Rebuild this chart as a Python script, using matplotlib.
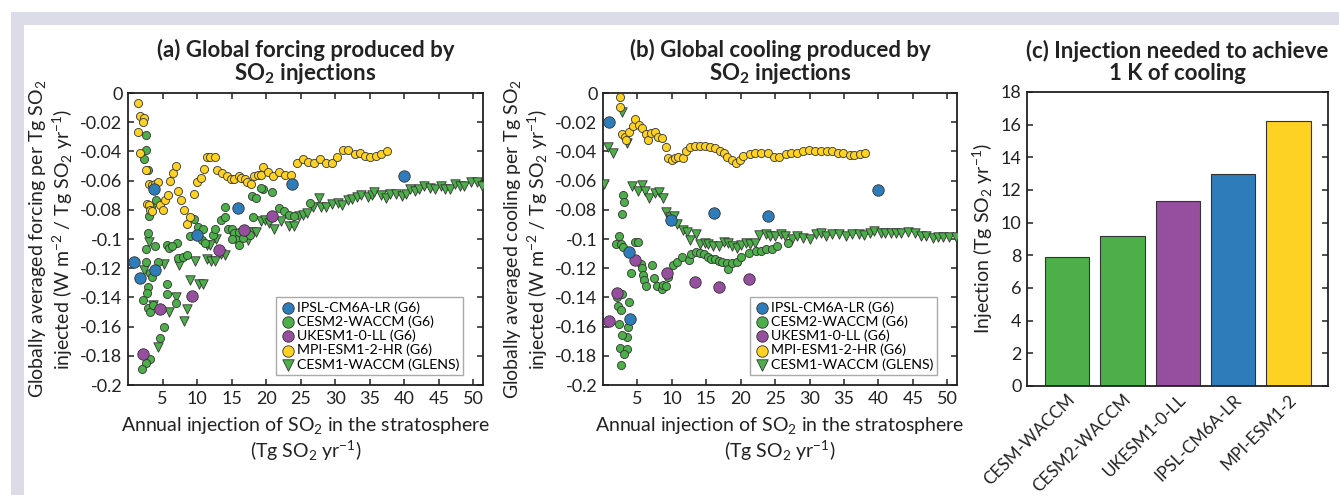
import numpy as np
import matplotlib
matplotlib.use("Agg")
import matplotlib.pyplot as plt
from matplotlib.patches import Rectangle

plt.rcParams['font.family'] = ['Lato', 'DejaVu Sans']
plt.rcParams['mathtext.default'] = 'regular'

# colours
c_blue = '#2E7DBA'
c_green = '#4CAF49'
c_purple = '#964F9F'
c_yellow = '#FDD222'

# ---------------- (a) forcing per Tg SO2 ----------------
ipsl_f_x = [0.9, 1.7, 3.8, 3.9, 9.95, 15.9, 23.8, 40.0]
ipsl_f_y = [-0.116, -0.127, -0.066, -0.121, -0.097, -0.079, -0.062, -0.057]

ukesm_f_x = [2.2, 4.6, 9.3, 13.2, 16.8, 20.9]
ukesm_f_y = [-0.179, -0.148, -0.139, -0.1075, -0.094, -0.084]

mpi_f_x = [1.5, 1.75, 2.3, 2.1, 1.4, 1.7, 2.6, 3.1, 3.5, 3.9, 4.3, 2.7, 3.0, 3.2, 3.5,
           4.7, 5.1, 5.4, 5.8, 6.1, 6.5, 6.9, 7.2, 7.7, 8.1, 8.5, 9.0, 9.5, 9.95, 10.5,
           11.0, 11.4, 11.9, 12.6, 12.9, 13.6, 14.3, 14.9, 15.4, 16.0, 16.4, 16.9, 17.3,
           17.8, 18.3, 18.8, 19.2, 19.6, 20.2, 21.0, 21.9, 22.7, 23.6, 24.4, 25.3, 26.1,
           26.9, 27.8, 28.6, 29.5, 30.3, 31.1, 31.9, 32.8, 33.6, 34.3, 35.1, 35.9, 36.7, 37.5]
mpi_f_y = [-0.007, -0.016, -0.017, -0.020, -0.027, -0.041, -0.053, -0.062, -0.063, -0.062,
           -0.061, -0.076, -0.077, -0.080, -0.081, -0.077, -0.080, -0.073, -0.070, -0.060,
           -0.055, -0.050, -0.067, -0.073, -0.080, -0.090, -0.085, -0.069, -0.061, -0.058,
           -0.052, -0.044, -0.044, -0.044, -0.053, -0.055, -0.057, -0.059, -0.059, -0.057,
           -0.058, -0.059, -0.061, -0.062, -0.057, -0.056, -0.056, -0.051, -0.054, -0.057,
           -0.054, -0.056, -0.056, -0.048, -0.045, -0.047, -0.048, -0.045, -0.048, -0.048,
           -0.044, -0.039, -0.039, -0.042, -0.041, -0.043, -0.044, -0.043, -0.042, -0.040]

cesm2_f_x = [2.57, 2.67, 2.33, 2.95, 3.05, 2.86, 4.0, 3.4, 2.67, 3.9, 2.67, 4.3, 3.14, 3.52,
             2.86, 2.76, 2.19, 2.86, 3.14, 3.62, 5.2, 4.6, 3.14, 2.57, 2.0, 5.7, 5.7, 7.0,
             7.1, 5.6, 6.0, 6.4, 7.3, 7.9, 8.5, 9.0, 9.6, 10.1, 10.8, 10.7, 11.2, 12.3, 12.6,
             13.4, 14.0, 14.0, 14.5, 15.0, 15.3, 15.8, 16.0, 15.0, 16.1, 16.6, 17.1, 17.6,
             18.0, 18.5, 18.1, 19.5, 19.3, 20.9, 21.9, 22.6, 23.3, 24.1, 26.4]
cesm2_f_y = [-0.029, -0.039, -0.045, -0.053, -0.084, -0.096, -0.073, -0.078, -0.107, -0.105,
             -0.116, -0.116, -0.123, -0.126, -0.133, -0.137, -0.142, -0.147, -0.150, -0.145,
             -0.160, -0.168, -0.182, -0.185, -0.189, -0.131, -0.138, -0.144, -0.1025, -0.104,
             -0.106, -0.105, -0.113, -0.112, -0.111, -0.098, -0.0865, -0.092, -0.093, -0.101,
             -0.103, -0.097, -0.093, -0.087, -0.085, -0.078, -0.093, -0.093, -0.096, -0.100,
             -0.104, -0.100, -0.095, -0.099, -0.095, -0.097, -0.0705, -0.072, -0.085, -0.066,
             -0.065, -0.068, -0.079, -0.081, -0.0836, -0.084, -0.0756]

cesm1_f_x = [3.05, 2.33, 5.2, 7.4, 9.7, 9.0, 10.3, 10.8, 11.5, 12.0, 12.6, 13.5, 14.0, 12.8,
             11.4, 11.9, 6.9, 5.9, 3.6, 8.5, 8.05, 4.3, 15.4, 15.9, 16.9, 17.4, 18.0, 18.5,
             19.2, 19.8, 20.4, 21.1, 22.1, 23.3, 24.0, 24.7, 25.4, 25.9, 26.8, 27.6, 27.9,
             28.7, 29.6, 30.4, 31.0, 31.8, 32.4, 33.1, 33.8, 34.7, 35.3, 35.6, 36.6, 37.3,
             37.9, 38.8, 39.6, 40.3, 40.8, 41.5, 42.1, 42.9, 43.7, 44.5, 45.3, 45.9, 46.6,
             47.3, 48.0, 48.7, 49.6, 50.5, 51.2]
cesm1_f_y = [-0.102, -0.121, -0.117, -0.118, -0.115, -0.128, -0.131, -0.131, -0.114, -0.115,
             -0.115, -0.110, -0.111, -0.100, -0.104, -0.104, -0.140, -0.150, -0.145, -0.148,
             -0.156, -0.174, -0.0995, -0.099, -0.098, -0.101, -0.095, -0.095, -0.088, -0.087,
             -0.089, -0.093, -0.088, -0.091, -0.091, -0.084, -0.0836, -0.082, -0.078, -0.0717,
             -0.078, -0.078, -0.076, -0.0756, -0.077, -0.073, -0.0726, -0.071, -0.0696, -0.0715,
             -0.070, -0.068, -0.070, -0.072, -0.0694, -0.0694, -0.0705, -0.0694, -0.066, -0.067,
             -0.066, -0.064, -0.065, -0.066, -0.064, -0.066, -0.066, -0.0624, -0.0635, -0.0637,
             -0.0607, -0.0607, -0.064]

# ---------------- (b) cooling per Tg SO2 ----------------
ipsl_c_x = [0.82, 3.8, 3.9, 9.9, 16.05, 24.0, 40.0]
ipsl_c_y = [-0.0196, -0.109, -0.155, -0.087, -0.082, -0.084, -0.0664]

ukesm_c_x = [0.82, 2.08, 4.6, 9.33, 13.3, 16.9, 21.2]
ukesm_c_y = [-0.156, -0.137, -0.1144, -0.123, -0.1297, -0.1326, -0.1274]

mpi_c_x = [2.42, 2.52, 2.8, 3.15, 3.4, 3.8, 4.3, 4.6, 5.25, 5.7, 6.2, 6.56, 7.0, 7.5, 8.0,
           8.5, 9.1, 9.5, 10.0, 10.5, 10.9, 11.6, 12.1, 12.6, 13.4, 14.1, 14.8, 15.6, 16.3,
           17.0, 17.5, 18.0, 18.7, 19.3, 19.9, 20.4, 21.3, 22.1, 23.0, 24.0, 24.8, 25.6,
           26.5, 27.3, 28.2, 29.0, 29.9, 30.8, 31.6, 32.5, 33.3, 34.1, 34.9, 35.8, 36.5,
           37.3, 38.1]
mpi_c_y = [-0.003, -0.0098, -0.028, -0.030, -0.032, -0.027, -0.0226, -0.018, -0.022, -0.024,
           -0.028, -0.032, -0.0276, -0.027, -0.030, -0.0306, -0.0368, -0.0447, -0.046,
           -0.0447, -0.0436, -0.0447, -0.0395, -0.0372, -0.0363, -0.0363, -0.0363, -0.0368,
           -0.038, -0.0395, -0.0413, -0.0436, -0.0459, -0.048, -0.046, -0.043, -0.042,
           -0.041, -0.041, -0.041, -0.0436, -0.0436, -0.042, -0.041, -0.041, -0.0395, -0.039,
           -0.040, -0.040, -0.0397, -0.040, -0.041, -0.041, -0.0425, -0.0425, -0.042, -0.041]

cesm2_c_x = [2.9, 3.0, 2.76, 2.33, 1.94, 2.67, 2.9, 4.6, 5.1, 4.0, 5.5, 5.6, 5.8, 6.0, 6.2,
             7.05, 7.4, 7.9, 8.6, 8.75, 9.2, 9.5, 10.1, 10.8, 11.4, 12.5, 12.8, 13.5, 14.1,
             14.7, 15.2, 15.7, 16.2, 16.8, 17.3, 18.0, 18.1, 18.7, 19.5, 20.1, 21.2, 22.2,
             22.9, 23.7, 24.5, 25.3, 26.9, 2.0, 2.8, 3.8, 2.18, 2.67, 2.33, 3.6, 3.5, 2.76,
             2.5, 3.5, 3.0, 2.67]
cesm2_c_y = [-0.070, -0.0744, -0.083, -0.098, -0.1034, -0.1034, -0.1057, -0.102, -0.1018,
             -0.1235, -0.117, -0.120, -0.1247, -0.128, -0.132, -0.1178, -0.127, -0.132,
             -0.134, -0.1315, -0.132, -0.1258, -0.118, -0.116, -0.1126, -0.1144, -0.1105,
             -0.1087, -0.1094, -0.110, -0.112, -0.1137, -0.1137, -0.115, -0.1155, -0.1167,
             -0.1205, -0.1167, -0.116, -0.112, -0.1098, -0.108, -0.108, -0.1068, -0.1068,
             -0.1046, -0.103, -0.140, -0.1377, -0.143, -0.146, -0.1486, -0.158, -0.160,
             -0.167, -0.1658, -0.1744, -0.1756, -0.179, -0.1863]

cesm1_c_x = [2.7, 3.5, 0.72, 1.45, 0.09, 4.2, 5.1, 5.7, 6.1, 6.7, 7.5, 8.2, 8.65, 9.1, 9.7,
             10.3, 10.8, 11.6, 12.2, 12.7, 13.5, 14.1, 14.8, 15.3, 15.95, 16.8, 17.6, 18.1,
             18.7, 19.5, 20.0, 20.7, 21.4, 22.1, 22.6, 23.6, 24.3, 25.0, 25.8, 26.4, 27.4,
             28.2, 29.1, 30.0, 30.9, 31.6, 32.4, 33.3, 34.3, 35.3, 36.2, 37.1, 37.9, 38.7,
             39.4, 40.3, 41.0, 41.8, 42.5, 43.2, 44.3, 45.3, 46.2, 46.9, 47.9, 48.7, 49.4,
             50.3, 51.2]
cesm1_c_y = [-0.013, -0.0345, -0.0372, -0.0413, -0.0623, -0.064, -0.067, -0.063, -0.067,
             -0.072, -0.0687, -0.0676, -0.072, -0.0817, -0.085, -0.084, -0.0897, -0.094,
             -0.095, -0.1007, -0.0966, -0.1034, -0.1025, -0.1034, -0.105, -0.105, -0.102,
             -0.1025, -0.105, -0.106, -0.104, -0.103, -0.1034, -0.1025, -0.097, -0.0968,
             -0.098, -0.0979, -0.0966, -0.098, -0.100, -0.0979, -0.099, -0.100, -0.0966,
             -0.0957, -0.0977, -0.0966, -0.0968, -0.0977, -0.0968, -0.0968, -0.0973, -0.0957,
             -0.0946, -0.0957, -0.0961, -0.0957, -0.0961, -0.0961, -0.095, -0.0961, -0.0977,
             -0.0979, -0.099, -0.0984, -0.0984, -0.0984, -0.0988]

# ---------------- (c) injection for 1 K ----------------
bar_models = ['CESM-WACCM', 'CESM2-WACCM', 'UKESM1-0-LL', 'IPSL-CM6A-LR', 'MPI-ESM1-2']
bar_values = [7.9, 9.2, 11.3, 13.0, 16.2]
bar_colors = [c_green, c_green, c_purple, c_blue, c_yellow]

yticks = [0, -0.02, -0.04, -0.06, -0.08, -0.1, -0.12, -0.14, -0.16, -0.18, -0.2]
ytick_labels = ['0', '-0.02', '-0.04', '-0.06', '-0.08', '-0.1', '-0.12', '-0.14',
                '-0.16', '-0.18', '-0.2']
xticks = [5, 10, 15, 20, 25, 30, 35, 40, 45, 50]

W, H = 1339, 495
fig = plt.figure(figsize=(W / 100, H / 100), dpi=100)
fig.patches.append(Rectangle((11 / W, 0), 1, 1 - 12 / H, transform=fig.transFigure,
                             facecolor='#dcdbe8', edgecolor='none', zorder=-10))
fig.patches.append(Rectangle((24 / W, 0), 1, 1 - 25 / H, transform=fig.transFigure,
                             facecolor='white', edgecolor='none', zorder=-9))

tick_fs = 13
label_fs = 14
title_fs = 16
ink = '#222222'


def style_axes(ax):
    for s in ax.spines.values():
        s.set_linewidth(1.3)
        s.set_color(ink)
    ax.tick_params(direction='in', length=4, width=1.1, top=True, right=True,
                   labelsize=tick_fs, colors=ink, pad=4)


def scatter_panel(ax, data, ylabel, title):
    (ix, iy, ux, uy, mx, my, c2x, c2y, c1x, c1y) = data
    h_c1 = ax.scatter(c1x, c1y, marker='v', s=46, c=c_green, edgecolors='#333333',
                      linewidths=0.6, zorder=3)
    h_c2 = ax.scatter(c2x, c2y, marker='o', s=34, c=c_green, edgecolors='#333333',
                      linewidths=0.6, zorder=3)
    h_m = ax.scatter(mx, my, marker='o', s=34, c=c_yellow, edgecolors='#333333',
                     linewidths=0.6, zorder=3)
    h_u = ax.scatter(ux, uy, marker='o', s=68, c=c_purple, edgecolors='#333333',
                     linewidths=0.6, zorder=4)
    h_i = ax.scatter(ix, iy, marker='o', s=68, c=c_blue, edgecolors='#333333',
                     linewidths=0.6, zorder=4)
    ax.set_xlim(0, 51.4)
    ax.set_ylim(-0.2, 0)
    ax.set_xticks(xticks)
    ax.set_yticks(yticks)
    ax.set_yticklabels(ytick_labels)
    style_axes(ax)
    ax.set_xlabel('Annual injection of SO$_2$ in the stratosphere\n(Tg SO$_2$ yr$^{-1}$)',
                  fontsize=label_fs, color=ink, labelpad=6, linespacing=1.15)
    ax.set_ylabel(ylabel, fontsize=label_fs, color=ink, labelpad=4, linespacing=1.15)
    ax.set_title(title, fontsize=title_fs, fontweight='bold', color=ink, pad=9,
                 linespacing=1.05)
    leg = ax.legend([h_i, h_c2, h_u, h_m, h_c1],
                    ['IPSL-CM6A-LR (G6)', 'CESM2-WACCM (G6)', 'UKESM1-0-LL (G6)',
                     'MPI-ESM1-2-HR (G6)', 'CESM1-WACCM (GLENS)'],
                    loc='lower right', bbox_to_anchor=(0.952, 0.025), fontsize=10.2,
                    frameon=True, fancybox=False, framealpha=1, edgecolor='#aaaaaa',
                    handletextpad=0.05, borderpad=0.3, labelspacing=0.12,
                    handlelength=1.1, borderaxespad=0.2, scatterpoints=1)
    leg.get_frame().set_linewidth(1.0)
    for hnd in leg.legend_handles:
        hnd.set_sizes([68])


ax1 = fig.add_axes([128 / W, 1 - 385 / H, 355 / W, 292 / H])
scatter_panel(ax1, (ipsl_f_x, ipsl_f_y, ukesm_f_x, ukesm_f_y, mpi_f_x, mpi_f_y,
                    cesm2_f_x, cesm2_f_y, cesm1_f_x, cesm1_f_y),
              'Globally averaged forcing per Tg SO$_2$\ninjected (W m$^{-2}$ / Tg SO$_2$ yr$^{-1}$)',
              '(a) Global forcing produced by\nSO$_2$ injections')

ax2 = fig.add_axes([603 / W, 1 - 385 / H, 354 / W, 292 / H])
scatter_panel(ax2, (ipsl_c_x, ipsl_c_y, ukesm_c_x, ukesm_c_y, mpi_c_x, mpi_c_y,
                    cesm2_c_x, cesm2_c_y, cesm1_c_x, cesm1_c_y),
              'Globally averaged cooling per Tg SO$_2$\ninjected (W m$^{-2}$ / Tg SO$_2$ yr$^{-1}$)',
              '(b) Global cooling produced by\nSO$_2$ injections')

ax3 = fig.add_axes([1027 / W, 1 - 386 / H, 301 / W, 294 / H])
pos = np.arange(1, len(bar_models) + 1)
ax3.bar(pos, bar_values, width=0.8, color=bar_colors, edgecolor='#333333', linewidth=0.8)
ax3.set_xlim(0.28, 5.71)
ax3.set_ylim(0, 18)
ax3.set_yticks(np.arange(0, 19, 2))
ax3.set_xticks(pos)
ax3.set_xticklabels(bar_models, rotation=45, ha='right', rotation_mode='anchor')
style_axes(ax3)
ax3.tick_params(axis='x', length=0, top=False, pad=4, labelsize=12.3)
ax3.set_ylabel('Injection (Tg SO$_2$ yr$^{-1}$)', fontsize=label_fs, color=ink,
               labelpad=4)
ax3.set_title('(c) Injection needed to achieve\n1 K of cooling', fontsize=title_fs,
              fontweight='bold', color=ink, pad=9, linespacing=1.05)

fig.savefig('out.png', dpi=100)
